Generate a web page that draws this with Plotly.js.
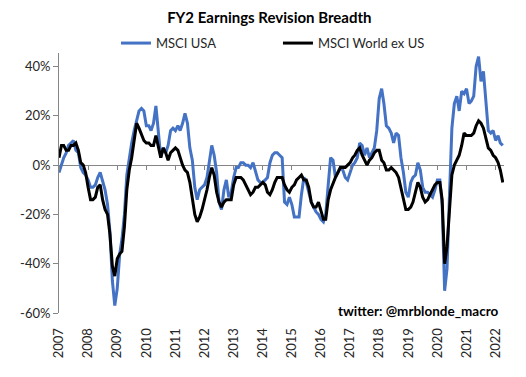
<!DOCTYPE html>
<html>
<head>
<meta charset="utf-8">
<script src="https://cdn.plot.ly/plotly-3.0.1.min.js"></script>
<style>html,body{margin:0;padding:0;background:#fff;}#chart{width:526px;height:377px;}</style>
</head>
<body>
<div id="chart"></div>
<script>
// Monthly series, first month = Jan 2007
var startYear = 2007;
var seriesNames = ["MSCI USA", "MSCI World ex US"];
var usa = [
  -3, 0, 3, 5, 8, 9, 10, 6, 5, -1, -3, -4,          // 2007
  -6, -9, -9, -8, -5, -3, -6, -10, -16, -27, -47, -57, // 2008
  -50, -36, -30, -20, -4, 3, 9, 14, 18, 22, 23, 22,    // 2009
  16, 16, 14, 17, 24, 14, 3, 7, 5, 8, 14, 15,          // 2010
  14, 16, 14, 17, 21, 17, 7, 2, -9, -14, -10, -9,      // 2011
  -8, -5, 1, 8, 4, -3, -15, -18, -10, -6, -13, -11,    // 2012
  -5, -1, -1, 1, 1, 0, 0, -1, 1, -3, -6, -7,           // 2013
  -7, -6, -5, 1, 4, 5, 5, 4, 3, -15, -16, -13,         // 2014
  -16, -21, -21, -21, -12, -5, -7, -11, -15, -17, -19, -20, // 2015
  -22, -23, -20, -8, 3, 2, -5, -3, -1, -2, -5, -6,     // 2016
  -3, 0, 1, 3, 9, 8, 4, 7, 3, 5, 7, 14,                // 2017
  27, 31, 25, 16, 15, 13, 9, 13, 12, 3, -3, -11,       // 2018
  -13, -7, -5, -4, 1, -2, -9, -11, -11, -12, -13, -10, // 2019
  -6, -6, -16, -51, -42, -12, 15, 25, 28, 22, 30, 29,  // 2020
  31, 25, 26, 28, 40, 44, 34, 38, 26, 14, 13, 14,      // 2021
  10, 12, 9, 8                                          // 2022
];
var worldExUS = [
  3, 8, 8, 6, 6, 8, 8, 9, 6, 1, 0, -3,                 // 2007
  -9, -14, -14, -13, -9, -8, -14, -18, -20, -28, -41, -45, // 2008
  -38, -36, -35, -25, -10, -2, 3, 10, 17, 15, 12, 10,  // 2009
  9, 9, 8, 8, 12, 7, 3, 7, 5, 2, 5, 6,                 // 2010
  7, 6, 3, 0, -2, -3, -7, -14, -20, -23, -21, -18,     // 2011
  -14, -10, -5, -1, -4, -11, -15, -17, -15, -14, -14, -14, // 2012
  -8, -5, -5, -5, -6, -8, -10, -12, -11, -9, -9, -8,   // 2013
  -7, -8, -11, -12, -10, -7, -5, -5, -5, -8, -10, -11, // 2014
  -9, -8, -6, -5, -4, -6, -6, -9, -15, -17, -17, -15,  // 2015
  -19, -22, -22, -14, -10, -7, -5, -3, -1, -1, -1, 0,  // 2016
  1, 3, 4, 6, 7, 4, 2, 0, 2, 3, 5, 6,                  // 2017
  6, 2, 1, -2, -2, -1, -2, -3, -5, -9, -14, -18,       // 2018
  -18, -17, -15, -11, -7, -9, -13, -15, -14, -12, -10, -8, // 2019
  -7, -7, -14, -40, -33, -17, -4, 0, 2, 4, 8, 13,      // 2020
  12, 12, 12, 13, 16, 18, 17, 15, 11, 7, 6, 4,         // 2021
  3, 1, -2, -7                                          // 2022
];
var yTicks = [-60, -40, -20, 0, 20, 40];
var yTickText = ["-60%", "-40%", "-20%", "0%", "20%", "40%"];
var yearTicks = ["2007","2008","2009","2010","2011","2012","2013","2014","2015","2016","2017","2018","2019","2020","2021","2022"];

function monthDates(n) {
  var out = [];
  for (var i = 0; i < n; i++) {
    var y = startYear + Math.floor(i / 12);
    var m = (i % 12) + 1;
    out.push(y + "-" + (m < 10 ? "0" + m : m) + "-01");
  }
  return out;
}
var dates = monthDates(usa.length);
var tickDates = yearTicks.map(function (y) { return y + "-01-01"; });
var xRange = ["2007-01-01", "2022-04-16"];
var yRange = [-60, 45.5];
var zeroPos = (0 - yRange[0]) / (yRange[1] - yRange[0]);

var FONT = "Lato, 'Open Sans', sans-serif";
var AX = "#868686";

var traces = [
  {x: [xRange[0]], y: [0], xaxis: "x2", yaxis: "y", showlegend: false,
   hoverinfo: "skip", mode: "lines", type: "scatter", line: {width: 0}},
  {x: dates, y: usa, name: seriesNames[0], type: "scatter", mode: "lines",
   line: {color: "#4472C4", width: 3}, xaxis: "x", yaxis: "y"},
  {x: dates, y: worldExUS, name: seriesNames[1], type: "scatter", mode: "lines",
   line: {color: "#000000", width: 3}, xaxis: "x", yaxis: "y"}
];

var layout = {
  width: 526, height: 377,
  margin: {l: 59, r: 22, t: 53, b: 64},
  paper_bgcolor: "#fff", plot_bgcolor: "#fff",
  font: {family: FONT, color: "#262626", size: 13},
  title: {text: "<b>FY2 Earnings Revision Breadth</b>", font: {family: FONT, size: 15, color: "#000"},
          x: 0.512, xanchor: "center", y: 1 - 18/377, yanchor: "middle", yref: "container"},
  showlegend: true,
  legend: {orientation: "h", x: 0.128, xanchor: "left", y: 1.038, yanchor: "middle",
           font: {family: FONT, size: 13, color: "#262626"}, entrywidth: 117, entrywidthmode: "pixels",
           bgcolor: "rgba(0,0,0,0)", tracegroupgap: 0, itemwidth: 30},
  xaxis: {type: "date", range: xRange, tickvals: tickDates, ticktext: yearTicks,
          tickangle: -90, showgrid: false, zeroline: false, showline: false,
          ticks: "outside", ticklen: 9, tickcolor: "rgba(0,0,0,0)",
          tickfont: {family: FONT, size: 13, color: "#262626"}},
  xaxis2: {type: "date", range: xRange, tickvals: tickDates, ticktext: yearTicks.map(function(){return "";}),
           overlaying: "x", anchor: "free", position: zeroPos, side: "bottom",
           showline: false, ticks: "outside", ticklen: 4, tickcolor: AX, tickwidth: 1,
           showticklabels: false, showgrid: false, zeroline: false},
  yaxis: {range: yRange, tickvals: yTicks, ticktext: yTickText, showgrid: false,
          zeroline: true, zerolinecolor: AX, zerolinewidth: 1,
          showline: true, linecolor: AX, linewidth: 1, ticks: "outside", ticklen: 5,
          tickcolor: AX, layer: "below traces",
          tickfont: {family: FONT, size: 13, color: "#262626"}},
  annotations: [
    {text: "<b>twitter: @mrblonde_macro</b>", xref: "paper", yref: "paper",
     x: 1, xanchor: "right", xshift: -3, y: 0, yanchor: "middle", yshift: 2,
     showarrow: false, font: {family: FONT, size: 13.5, color: "#000"}}
  ]
};

Plotly.newPlot("chart", traces, layout, {displayModeBar: false, staticPlot: true});
</script>
</body>
</html>
